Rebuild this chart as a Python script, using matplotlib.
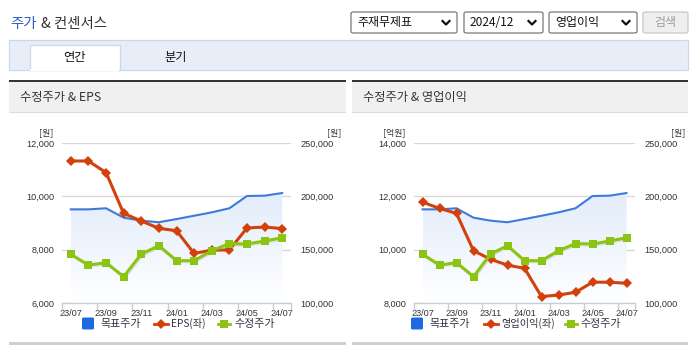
import matplotlib
matplotlib.use("Agg")
import matplotlib.pyplot as plt
import numpy as np
from matplotlib.patches import Rectangle, FancyBboxPatch
from matplotlib.lines import Line2D
from matplotlib.colors import LinearSegmentedColormap
from matplotlib.transforms import ScaledTranslation

plt.rcParams['font.family'] = ['Noto Sans CJK KR', 'DejaVu Sans']

# ---- data ----
months = ["23/07", "23/08", "23/09", "23/10", "23/11", "23/12", "24/01",
          "24/02", "24/03", "24/04", "24/05", "24/06", "24/07"]
target_price = [187800, 187800, 188800, 180000, 177200, 175700, 178700,
                181800, 185000, 188800, 200300, 200600, 203100]
adj_price = [145700, 135600, 137800, 124700, 145900, 153700, 139700,
             139700, 149000, 155700, 155300, 158100, 161200]
eps = [11325, 11325, 10890, 9360, 9075, 8800, 8710,
       7860, 7980, 7990, 8810, 8850, 8790]
op_income = [11780, 11550, 11360, 9960, 9640, 9420, 9300,
             8240, 8300, 8400, 8780, 8780, 8740]

left_ticks_eps = [6000, 8000, 10000, 12000]
left_ticks_op = [8000, 10000, 12000, 14000]
right_ticks = [100000, 150000, 200000, 250000]
xtick_labels = months[::2]

W, H = 695, 349
fig = plt.figure(figsize=(W / 100, H / 100), dpi=100)
fig.patch.set_facecolor("white")


def fx(x):
    return x / W


def fy(y):
    return 1 - y / H


def px_rect(x0, y0, x1, y1, **kw):
    r = Rectangle((fx(x0), fy(y1)), (x1 - x0) / W, (y1 - y0) / H,
                  transform=fig.transFigure, **kw)
    fig.add_artist(r)
    return r


BLUE = "#3d7bdb"
BLUE_SQ = "#1f6ae0"
RED = "#d2410c"
GREEN = "#8cc414"
TXT = "#333333"
LEG = "#333344"
GRID = "#d9d9d9"
AXIS = "#c4cfdc"
NUMFONT = "Liberation Sans"

# ---- page header ----
fig.text(fx(10), fy(24), "주가", color="#2d5fc4", fontsize=10.4, va="center", ha="left")
fig.text(fx(41), fy(24), "& 컨센서스", color="#333333", fontsize=10.4, va="center", ha="left")


def dropdown(x0, x1, label):
    b = FancyBboxPatch((fx(x0), fy(33)), (x1 - x0) / W, 21 / H,
                       boxstyle="round,pad=0,rounding_size=0.004",
                       transform=fig.transFigure, facecolor="white",
                       edgecolor="#7a7a7a", linewidth=0.9)
    fig.add_artist(b)
    fig.text(fx(x0 + 6), fy(22.5), label, fontsize=8.6, color="#111111",
             va="center", ha="left")
    cx = x1 - 11
    fig.add_artist(Line2D([fx(cx - 3.5), fx(cx), fx(cx + 3.5)],
                          [fy(21), fy(24.5), fy(21)], transform=fig.transFigure,
                          color="#111111", linewidth=1.6))


dropdown(351, 457, "주재무제표")
dropdown(464, 543, "2024/12")
dropdown(549, 637, "영업이익")
btn = FancyBboxPatch((fx(643), fy(33)), 45 / W, 21 / H,
                     boxstyle="round,pad=0,rounding_size=0.004",
                     transform=fig.transFigure, facecolor="#efefef",
                     edgecolor="#c8c8c8", linewidth=0.9)
fig.add_artist(btn)
fig.text(fx(665.5), fy(22.5), "검색", fontsize=8.6, color="#9a9a9a",
         va="center", ha="center")

# ---- tab bar ----
px_rect(9, 40.5, 688, 69.5, facecolor="#e8eef8", edgecolor="#ccd7e8", linewidth=0.9)
px_rect(29.5, 45, 120, 70, facecolor="white", edgecolor="#ccd7e8", linewidth=0.9)
px_rect(30.3, 68.5, 119.3, 71, facecolor="white", edgecolor="none")
fig.text(fx(74), fy(57), "연간", fontsize=8.8, color="#111111", va="center", ha="center")
fig.text(fx(176), fy(57), "분기", fontsize=8.8, color="#111111", va="center", ha="center")

# ---- panel frames ----
for (x0, x1, title) in [(9, 346, "수정주가 & EPS"), (352, 688, "수정주가 & 영업이익")]:
    px_rect(x0, 81, x1, 112, facecolor="#f0f0f0", edgecolor="none")
    px_rect(x0, 79.5, x1, 81.5, facecolor="#333333", edgecolor="none")
    px_rect(x0, 111.5, x1, 112.5, facecolor="#dcdcdc", edgecolor="none")
    px_rect(x0, 342, x1, 344.5, facecolor="#d0d0d0", edgecolor="none")
    fig.text(fx(x0 + 11), fy(97), title, fontsize=8.8, color="#333333",
             va="center", ha="left")

grad_cmap = LinearSegmentedColormap.from_list("area", ["#ffffff", "#e2ecfa"])
x = np.arange(len(months))


def make_chart(ax_x0, ax_x1, left_vals, left_ticks, left_label, left_unit,
               unit_left_x, unit_right_x, legend_items):
    rect = [fx(ax_x0), fy(303), (ax_x1 - ax_x0) / W, 160 / H]

    # bottom layer: target price area (right scale), grid, category axis
    ax_area = fig.add_axes(rect, zorder=1)
    ax_area.set_facecolor("none")
    poly = ax_area.fill_between(x, target_price, right_ticks[0], color="none")
    grad = np.linspace(0, 1, 200).reshape(-1, 1)
    im = ax_area.imshow(grad, extent=[0, len(x) - 1, right_ticks[0], max(target_price)],
                        origin="lower", aspect="auto", cmap=grad_cmap, zorder=1)
    im.set_clip_path(poly.get_paths()[0], transform=ax_area.transData)
    ax_area.plot(x, target_price, color=BLUE, linewidth=1.5, zorder=3,
                 solid_joinstyle="round")
    ax_area.set_xlim(-0.5, len(x) - 0.5)
    ax_area.set_ylim(right_ticks[0], right_ticks[-1])
    ax_area.set_yticks(right_ticks)
    ax_area.yaxis.grid(True, color=GRID, linewidth=1.0)
    ax_area.set_axisbelow(True)
    ax_area.tick_params(axis="y", left=False, right=False, labelleft=False)
    for s in ["top", "left", "right"]:
        ax_area.spines[s].set_visible(False)
    ax_area.spines["bottom"].set_color(AXIS)
    ax_area.spines["bottom"].set_linewidth(1.0)
    ax_area.set_xticks(x[::2])
    ax_area.set_xticklabels(xtick_labels, fontsize=6.6, color=TXT, family=NUMFONT)
    ax_area.set_xticks(np.arange(-0.5, len(x), 2).tolist() + [len(x) - 0.5], minor=True)
    ax_area.tick_params(axis="x", which="major", length=0, pad=4.5)
    ax_area.tick_params(axis="x", which="minor", length=5, color=AXIS, width=1)

    # middle layer: left-scale series
    ax_l = fig.add_axes(rect, zorder=2, sharex=ax_area)
    ax_l.set_facecolor("none")
    ax_l.plot(x, left_vals, color=RED, linewidth=2.2, marker="D", markersize=5.2,
              markeredgewidth=0, zorder=3, solid_joinstyle="round")
    ax_l.set_ylim(left_ticks[0], left_ticks[-1])
    ax_l.set_yticks(left_ticks)
    ax_l.set_yticklabels([f"{v:,}" for v in left_ticks], fontsize=6.6, color=TXT,
                         family=NUMFONT)
    ax_l.tick_params(axis="y", length=0, pad=5.5)
    ax_l.tick_params(axis="x", which="both", bottom=False, labelbottom=False)
    for s in ax_l.spines.values():
        s.set_visible(False)

    # top layer: adjusted price (right scale), with a soft shadow
    ax_r = fig.add_axes(rect, zorder=3, sharex=ax_area)
    ax_r.set_facecolor("none")
    ax_r.plot(x, adj_price, color="#9a9a9a", linewidth=2.4, alpha=0.25,
              transform=ax_r.transData + ScaledTranslation(
                  0.7 / 72, -0.7 / 72, fig.dpi_scale_trans), zorder=2)
    ax_r.plot(x, adj_price, color=GREEN, linewidth=2.2, marker="s", markersize=6.2,
              markeredgewidth=0, zorder=3, solid_joinstyle="round")
    ax_r.set_ylim(right_ticks[0], right_ticks[-1])
    ax_r.yaxis.tick_right()
    ax_r.set_yticks(right_ticks)
    ax_r.set_yticklabels([f"{v:,}" for v in right_ticks], fontsize=6.6, color=TXT,
                         family=NUMFONT)
    ax_r.tick_params(axis="y", length=0, pad=6.5)
    ax_r.tick_params(axis="x", which="both", bottom=False, labelbottom=False)
    for s in ax_r.spines.values():
        s.set_visible(False)

    # axis units
    fig.text(fx(unit_left_x), fy(133), left_unit, fontsize=6.4, color=TXT,
             ha="center", va="center")
    fig.text(fx(unit_right_x), fy(133), "[원]", fontsize=6.4, color=TXT,
             ha="center", va="center")

    # legend
    (sq_x, t1_x, red_x, t2_x, grn_x, t3_x) = legend_items
    ly = 323.5
    fs = 7.9
    sq = FancyBboxPatch((fx(sq_x), fy(ly + 6)), 12 / W, 12 / H,
                        boxstyle="round,pad=0,rounding_size=0.003",
                        transform=fig.transFigure, facecolor=BLUE_SQ, edgecolor="none")
    fig.add_artist(sq)
    fig.text(fx(t1_x), fy(ly), "목표주가", fontsize=fs, color=LEG,
             ha="left", va="center")
    fig.add_artist(Line2D([fx(red_x), fx(red_x + 14)], [fy(ly), fy(ly)],
                          transform=fig.transFigure, color=RED, linewidth=2.0))
    fig.add_artist(Line2D([fx(red_x + 7)], [fy(ly)], transform=fig.transFigure,
                          color=RED, marker="D", markersize=5, markeredgewidth=0))
    fig.text(fx(t2_x), fy(ly), left_label, fontsize=7.3, color=LEG,
             ha="left", va="center")
    fig.add_artist(Line2D([fx(grn_x), fx(grn_x + 12)], [fy(ly), fy(ly)],
                          transform=fig.transFigure, color=GREEN, linewidth=2.0))
    fig.add_artist(Line2D([fx(grn_x + 6)], [fy(ly)], transform=fig.transFigure,
                          color=GREEN, marker="s", markersize=6, markeredgewidth=0))
    fig.text(fx(t3_x), fy(ly), "수정주가", fontsize=fs, color=LEG,
             ha="left", va="center")


make_chart(62, 291, eps, left_ticks_eps, "EPS(좌)", "[원]", 46, 334,
           (82, 100, 154, 171, 218, 234))
make_chart(414, 635, op_income, left_ticks_op, "영업이익(좌)", "[억원]", 394, 678,
           (411, 429, 484, 501, 565, 580))

fig.savefig("out.png", dpi=100, facecolor="white")
